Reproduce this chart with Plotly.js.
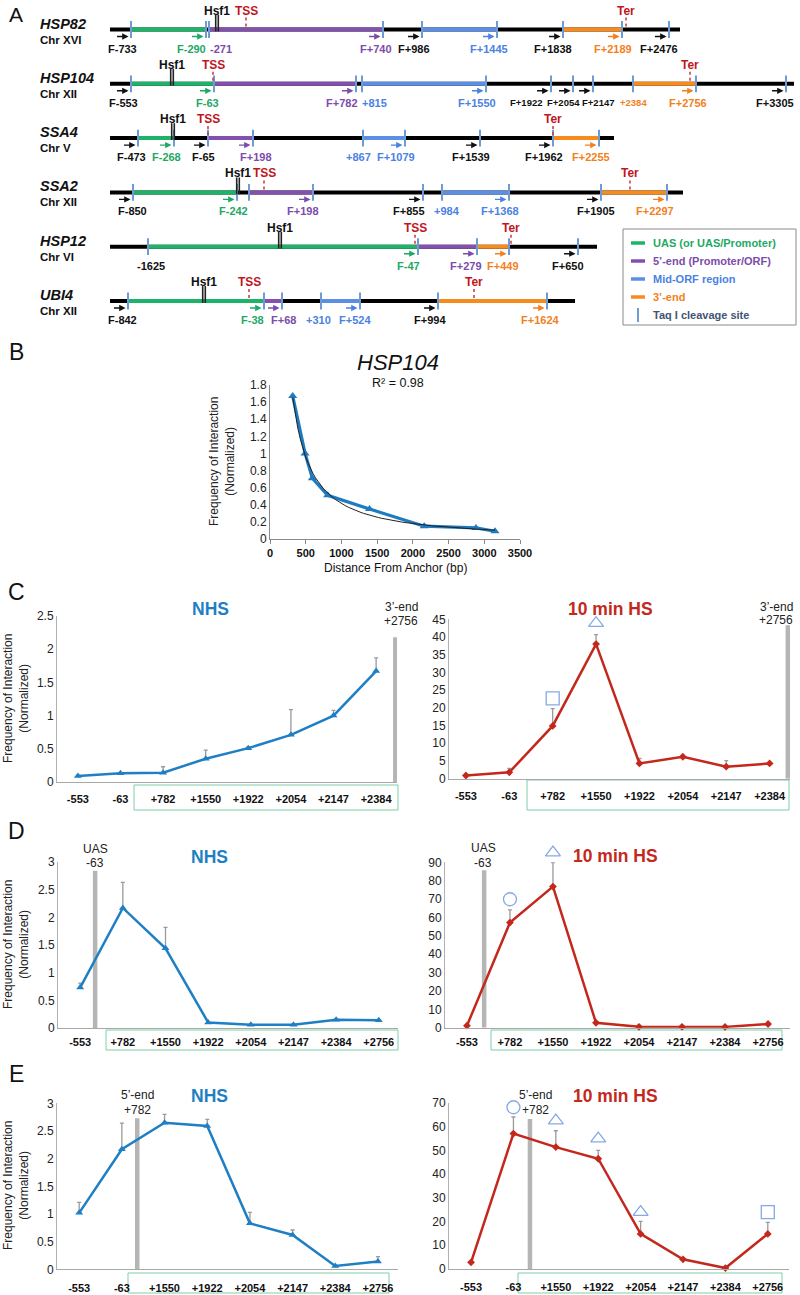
<!DOCTYPE html>
<html><head><meta charset="utf-8">
<script src="https://cdn.plot.ly/plotly-3.0.1.min.js"></script>
<style>html,body{margin:0;padding:0;background:#fff}#chart{width:800px;height:1295px}</style>
</head><body><div id="chart"></div>
<script>
// ================= Panel A: gene schematics (schematic units) =================
const genes = ['HSP82','HSP104','SSA4','SSA2','HSP12','UBI4'];
const chroms = ['Chr XVI','Chr XII','Chr V','Chr XII','Chr VI','Chr XII'];
const lineStart = [110,110,110,110,110,110];
const lineEnd = [680,794,614,683,597,575];
const uasSeg = [[131,206],[131,214],[138,174],[133,237],[148,418],[128,264]];
const fiveSeg = [[209,383],[214,356],[208,253],[249,313],[418,477],[264,282]];
const midSeg = [[422,497],[362,486],[363,405],[442,509],null,[321,360]];
const threeSeg = [[563,622],[633,696],[553,599],[601,667],[477,509],[438,547]];
const taqSites = [
  [131,206,209,383,422,497,563,622,669],
  [131,214,356,362,486,551,573,593,633,696,786],
  [138,174,208,253,363,405,480,553,599],
  [133,237,249,313,423,442,509,601,667],
  [148,418,477,509,578],
  [128,264,282,321,360,438,547]
];
const hsf1Pos = [217,172,173,238,280,204];
const tssPos = [246,213,208,264,415,249];
const terPos = [626,690,553,630,511,474];
// probe labels: [text, label position, arrow target site (null = no arrow), colour key]
const probes = [
  [['F-733',122,131,'k'],['F-290',191,206,'g'],['-271',221,null,'p'],['F+740',376,383,'p'],['F+986',414,422,'k'],['F+1445',489,497,'b'],['F+1838',553,563,'k'],['F+2189',613,622,'o'],['F+2476',659,669,'k']],
  [['F-553',123,131,'k'],['F-63',207,214,'g'],['F+782',342,356,'p'],['+815',374,null,'b'],['F+1550',477,486,'b'],['F+1922',526,551,'k'],['F+2054',563,573,'k'],['F+2147',598,593,'k'],['+2384',633,null,'o'],['F+2756',688,696,'o'],['F+3305',775,786,'k']],
  [['F-473',131,138,'k'],['F-268',166,174,'g'],['F-65',203,208,'k'],['F+198',256,253,'p'],['+867',358,null,'b'],['F+1079',396,405,'b'],['F+1539',471,480,'k'],['F+1962',544,553,'k'],['F+2255',591,599,'o']],
  [['F-850',132,133,'k'],['F-242',233,237,'g'],['F+198',303,313,'p'],['F+855',409,423,'k'],['+984',447,null,'b'],['F+1368',500,509,'b'],['F+1905',596,601,'k'],['F+2297',655,667,'o']],
  [['-1625',151,null,'k'],['F-47',408,418,'g'],['F+279',466,477,'p'],['F+449',503,509,'o'],['F+650',568,578,'k']],
  [['F-842',122,128,'k'],['F-38',252,264,'g'],['F+68',283,282,'p'],['+310',318,null,'b'],['F+524',355,360,'b'],['F+994',430,438,'k'],['F+1624',540,547,'o']]
];
const smallProbes = ['F+1922','F+2054','F+2147','+2384'];
const legendItems = ['UAS (or UAS/Promoter)','5\u2019-end (Promoter/ORF)','Mid-ORF region','3\u2019-end','Taq I cleavage site'];

// ================= Panel B =================
const bDist = [318,491,593,808,1393,2159,2883,3150];
const bFreq = [1.67,1.0,0.71,0.51,0.35,0.15,0.13,0.09];

// ================= Panel C (anchor +2756) =================
const cLabels = ['-553','-63','+782','+1550','+1922','+2054','+2147','+2384'];
const cNHS    = [0.09,0.13,0.14,0.35,0.51,0.71,1.0,1.67];
const cNHSerr = [0.01,0.01,0.09,0.13,0.02,0.38,0.08,0.2];
const cHS     = [0.9,1.8,14.9,38.0,4.3,6.2,3.4,4.3];
const cHSerr  = [0.2,1.1,4.9,2.7,1.4,0.3,1.7,0.3];
const cSymX = [2,3], cSymY = [22.7,43.9], cSym = ['square-open','triangle-up-open'];

// ================= Panel D (anchor -63) =================
const dLabels = ['-553','+782','+1550','+1922','+2054','+2147','+2384','+2756'];
const dNHS    = [0.73,2.17,1.44,0.10,0.06,0.06,0.15,0.14];
const dNHSerr = [0.08,0.46,0.38,0.01,0.01,0.01,0.01,0.01];
const dHS     = [1.1,57.2,76.8,2.7,0.5,0.5,0.4,2.0];
const dHSerr  = [0.3,6.9,13,0.3,0.2,0.2,0.2,0.3];
const dSymX = [1,2], dSymY = [69.9,95.3], dSym = ['circle-open','triangle-up-open'];

// ================= Panel E (anchor +782) =================
const eLabels = ['-553','-63','+1550','+1922','+2054','+2147','+2384','+2756'];
const eNHS    = [1.02,2.17,2.65,2.59,0.83,0.62,0.06,0.14];
const eNHSerr = [0.19,0.47,0.15,0.12,0.2,0.09,0.01,0.09];
const eHS     = [2.8,57.1,51.4,46.5,14.8,4.1,0.4,14.8];
const eHSerr  = [0.3,7,6.9,3.5,5.3,0.3,0.2,4.9];
const eSymX = [1,2,3,4,7], eSymY = [68.2,62.6,55,24,24];
const eSym = ['circle-open','triangle-up-open','triangle-up-open','triangle-up-open','square-open'];

// anchor fragment markers: [position on category axis, bar top]
const cAnchorL = [7.45,2.18], cAnchorR = [7.42,43.3];
const dAnchorL = [0.35,2.84], dAnchorR = [0.40,85.7];
const eAnchorL = [1.36,2.73], eAnchorR = [1.39,63.3];

// ================= helpers =================
const FONT = 'Liberation Sans, Arial, sans-serif';
const W = 800, H = 1295;
const fx = p => p / W, fy = p => 1 - p / H;
const ROW0 = 29.5, ROWH = 54.3;
const COL = {k:'#111111', g:'#1fa865', p:'#7c4cab', b:'#4a82e2', o:'#f3801c'};
const SEG = {uas:'#1db46a', five:'#8450b0', mid:'#5b8fe6', three:'#f78b1e'};
const TAQ = '#6d9bd3', RED = '#c0161e';
const BLUE = '#1f7fc4', DRED = '#c4281c', SYM = '#86a9e6';

const traces = [];
const ann = [];
const shapes = [];

function segTrace(segs, color){
  const x = [], y = [];
  segs.forEach((s,i) => { if (!s) return; x.push(s[0], s[1], null); y.push(i, i, null); });
  return {type:'scatter', mode:'lines', x, y, xaxis:'x', yaxis:'y', line:{color, width:4}, hoverinfo:'skip', showlegend:false};
}
traces.push(segTrace(genes.map((g,i) => [lineStart[i], lineEnd[i]]), '#000'));
traces.push(segTrace(uasSeg, SEG.uas));
traces.push(segTrace(fiveSeg, SEG.five));
traces.push(segTrace(midSeg, SEG.mid));
traces.push(segTrace(threeSeg, SEG.three));
// Taq I sites
(function(){
  const x = [], y = [];
  taqSites.forEach((arr,i) => arr.forEach(v => { x.push(v); y.push(i); }));
  traces.push({type:'scatter', mode:'markers', x, y, xaxis:'x', yaxis:'y', hoverinfo:'skip', showlegend:false,
    marker:{symbol:'line-ns', size:12, line:{width:2, color:TAQ}}});
})();
// Hsf1 double bars
(function(){
  const x = [], y = [];
  hsf1Pos.forEach((v,i) => { x.push(v-1.3, v+1.3); y.push(i-6.5/ROWH, i-6.5/ROWH); });
  traces.push({type:'scatter', mode:'markers', x, y, xaxis:'x', yaxis:'y', hoverinfo:'skip', showlegend:false,
    marker:{symbol:'line-ns', size:12, line:{width:1.6, color:'#222'}}});
})();
// TSS / Ter dotted ticks
(function(){
  const x = [], y = [];
  [tssPos, terPos].forEach(arr => arr.forEach((v,i) => { x.push(v, v, null); y.push(i-12/ROWH, i-3/ROWH, null); }));
  traces.push({type:'scatter', mode:'lines', x, y, xaxis:'x', yaxis:'y', hoverinfo:'skip', showlegend:false,
    line:{color:'#d04048', width:1.6, dash:'dot'}});
})();

genes.forEach((g,i) => {
  ann.push({xref:'x', yref:'y', x:38, y:i, yshift:6, xanchor:'left', yanchor:'middle', showarrow:false,
    text:'<b><i>'+g+'</i></b>', font:{family:FONT, size:14.5, color:'#111'}});
  ann.push({xref:'x', yref:'y', x:38, y:i, yshift:-10, xanchor:'left', yanchor:'middle', showarrow:false,
    text:'<b>'+chroms[i]+'</b>', font:{family:FONT, size:11.5, color:'#111'}});
  ann.push({xref:'x', yref:'y', x:hsf1Pos[i], y:i, yshift:19, xanchor:'center', yanchor:'middle', showarrow:false,
    text:'<b>Hsf1</b>', font:{family:FONT, size:12, color:'#111'}});
  ann.push({xref:'x', yref:'y', x:tssPos[i], y:i, yshift:19, xanchor:'center', yanchor:'middle', showarrow:false,
    text:'<b>TSS</b>', font:{family:FONT, size:12, color:RED}});
  ann.push({xref:'x', yref:'y', x:terPos[i], y:i, yshift:19, xanchor:'center', yanchor:'middle', showarrow:false,
    text:'<b>Ter</b>', font:{family:FONT, size:12, color:RED}});
  probes[i].forEach(p => {
    const small = smallProbes.indexOf(p[0]) >= 0 && i === 1;
    ann.push({xref:'x', yref:'y', x:p[1], y:i, yshift:-19, xanchor:'center', yanchor:'middle', showarrow:false,
      text:'<b>'+p[0]+'</b>', font:{family:FONT, size: small ? 9.5 : 11, color:COL[p[3]]}});
    if (p[2] !== null) {
      ann.push({xref:'x', yref:'y', x:p[2]-2.5, y:i, yshift:-7, ax:-13, ay:0, showarrow:true, text:'',
        arrowhead:2, arrowsize:0.9, arrowwidth:1.4, arrowcolor:COL[p[3]], standoff:0});
    }
  });
});

// legend box (panel A)
shapes.push({type:'rect', xref:'paper', yref:'paper', x0:fx(623), x1:fx(796), y0:fy(229), y1:fy(325),
  line:{color:'#8a8a8a', width:1}, fillcolor:'rgba(0,0,0,0)'});
const legCols = [SEG.uas, SEG.five, SEG.mid, SEG.three];
const legTextCols = [COL.g, COL.p, COL.b, COL.o, '#3f5573'];
legendItems.forEach((t,k) => {
  const py = 243 + 18*k;
  if (k < 4) {
    shapes.push({type:'line', xref:'paper', yref:'paper', x0:fx(631), x1:fx(645), y0:fy(py), y1:fy(py),
      line:{color:legCols[k], width:3.5}});
  } else {
    shapes.push({type:'line', xref:'paper', yref:'paper', x0:fx(638), x1:fx(638), y0:fy(py-7), y1:fy(py+7),
      line:{color:TAQ, width:2}});
  }
  ann.push({xref:'paper', yref:'paper', x:fx(651), y:fy(py), xanchor:'left', yanchor:'middle', showarrow:false,
    text:'<b>'+t+'</b>', font:{family:FONT, size:11, color:legTextCols[k]}});
});

// ================= Panel B traces =================
traces.push({type:'scatter', mode:'lines+markers', x:bDist, y:bFreq, xaxis:'x2', yaxis:'y2', hoverinfo:'skip', showlegend:false,
  line:{color:'#1f7bbf', width:3.2}, marker:{symbol:'triangle-up', size:8, color:'#1f7bbf'}});
// power trendline fitted to the data (least squares in log-log space)
(function(){
  const lx = bDist.map(Math.log), ly = bFreq.map(Math.log), n = lx.length;
  const mx = lx.reduce((a,b)=>a+b)/n, my = ly.reduce((a,b)=>a+b)/n;
  let sxy = 0, sxx = 0;
  for (let i=0;i<n;i++){ sxy += (lx[i]-mx)*(ly[i]-my); sxx += (lx[i]-mx)*(lx[i]-mx); }
  const b = sxy/sxx, a = Math.exp(my - b*mx);
  const x = [], y = [];
  const x0 = Math.min(...bDist), x1 = Math.max(...bDist);
  for (let k=0;k<=80;k++){ const xv = x0 + (x1-x0)*k/80; x.push(xv); y.push(a*Math.pow(xv,b)); }
  traces.push({type:'scatter', mode:'lines', x, y, xaxis:'x2', yaxis:'y2', hoverinfo:'skip', showlegend:false,
    line:{color:'#222', width:1}});
})();

// ================= Panels C, D, E =================
function anchorBar(xa, ya, a){
  return {type:'scatter', mode:'lines', x:[a[0],a[0]], y:[0,a[1]], xaxis:xa, yaxis:ya, hoverinfo:'skip', showlegend:false,
    line:{color:'#b5b5b5', width:4.5}, cliponaxis:false};
}
function series(xa, ya, vals, err, color, symbol, msize){
  return {type:'scatter', mode:'lines+markers', x:vals.map((_,i)=>i), y:vals, xaxis:xa, yaxis:ya,
    line:{color, width:2.5}, marker:{symbol, size:msize, color},
    error_y:{type:'data', symmetric:false, array:err, arrayminus:err.map(()=>0), color:'#9a9a9a', thickness:1.3, width:2},
    cliponaxis:false, hoverinfo:'skip', showlegend:false};
}
function symbols(xa, ya, xs, ys, syms){
  return {type:'scatter', mode:'markers', x:xs, y:ys, xaxis:xa, yaxis:ya, cliponaxis:false, hoverinfo:'skip', showlegend:false,
    marker:{symbol:syms, size:13, color:SYM, line:{width:1.3, color:SYM}}};
}
traces.push(anchorBar('x3','y3',cAnchorL), series('x3','y3',cNHS,cNHSerr,BLUE,'triangle-up',7));
traces.push(anchorBar('x4','y4',cAnchorR), series('x4','y4',cHS,cHSerr,DRED,'diamond',6), symbols('x4','y4',cSymX,cSymY,cSym));
traces.push(anchorBar('x5','y5',dAnchorL), series('x5','y5',dNHS,dNHSerr,BLUE,'triangle-up',7));
// D right symbols lie above the plotted range: drawn on an invisible y axis with the same scale, taller domain
traces.push(anchorBar('x6','y6',dAnchorR), series('x6','y6',dHS,dHSerr,DRED,'diamond',6), symbols('x6','y9',dSymX,dSymY,dSym));
traces.push(anchorBar('x7','y7',eAnchorL), series('x7','y7',eNHS,eNHSerr,BLUE,'triangle-up',7));
traces.push(anchorBar('x8','y8',eAnchorR), series('x8','y8',eHS,eHSerr,DRED,'diamond',6), symbols('x8','y8',eSymX,eSymY,eSym));

function catX(px, range, labels, anchor, standoff){
  return {domain:[fx(px[0]), fx(px[1])], range, anchor, showgrid:false, zeroline:false, showline:true,
    linecolor:'#a8a8a8', linewidth:1, ticks:'', tickmode:'array', tickvals:labels.map((_,i)=>i),
    ticktext:labels.map(t=>'<b>'+t+'</b>'), tickfont:{family:FONT, size:11, color:'#111'},
    ticklabelstandoff:standoff, fixedrange:true};
}
function valY(py, max, dtick, anchor){
  return {domain:[fy(py[1]), fy(py[0])], range:[0,max], dtick, anchor, showgrid:false, zeroline:false,
    showline:true, linecolor:'#b0b0b0', linewidth:1, ticks:'', tickfont:{family:FONT, size:12, color:'#222'}, fixedrange:true};
}
// D right scale: 0 at 1027.7 px, 90 at 862.3 px -> extend same scale up to 830 px
const d6Bottom = 1027.7, d6Top = 862.3, d6Max = 90, d6ExtTop = 830;
const d6ExtMax = d6Max * (d6Bottom - d6ExtTop) / (d6Bottom - d6Top);

const layout = {
  width:W, height:H, margin:{l:0,r:0,t:0,b:0}, paper_bgcolor:'#fff', plot_bgcolor:'rgba(0,0,0,0)',
  showlegend:false, font:{family:FONT, color:'#111'},
  xaxis:{domain:[0,1], range:[0,W], visible:false, fixedrange:true, anchor:'y'},
  yaxis:{domain:[0,1], range:[(H-ROW0)/ROWH, -ROW0/ROWH], visible:false, fixedrange:true, anchor:'x'},
  xaxis2:{domain:[fx(270), fx(520)], range:[0,3500], dtick:500, anchor:'y2', showgrid:false, zeroline:false,
    showline:true, linecolor:'#8a8a8a', ticks:'outside', ticklen:4, tickcolor:'#8a8a8a',
    tickfont:{family:FONT, size:11, color:'#111', weight:'bold'}, fixedrange:true},
  yaxis2:{domain:[fy(539), fy(385)], range:[0,1.8], dtick:0.2, anchor:'x2', showgrid:false, zeroline:false,
    showline:true, linecolor:'#8a8a8a', ticks:'', tickfont:{family:FONT, size:12, color:'#222'}, fixedrange:true},
  xaxis3: catX([57,397], [-0.49,7.49], cLabels, 'y3', 7),
  yaxis3: valY([616,782], 2.5, 0.5, 'x3'),
  xaxis4: catX([449,790], [-0.39,7.47], cLabels, 'y4', 7),
  yaxis4: valY([619.3,778.7], 45, 5, 'x4'),
  xaxis5: catX([58,398], [-0.52,7.45], dLabels, 'y5', 4),
  yaxis5: valY([862,1028], 3, 0.5, 'x5'),
  xaxis6: catX([445,790], [-0.51,7.51], dLabels, 'y6', 4),
  yaxis6: valY([d6Top,d6Bottom], d6Max, 10, 'x6'),
  xaxis7: catX([57,398], [-0.52,7.47], eLabels, 'y7', 8),
  yaxis7: valY([1103.3,1269.3], 3, 0.5, 'x7'),
  xaxis8: catX([449,789], [-0.52,7.50], eLabels, 'y8', 8),
  yaxis8: valY([1103,1269], 70, 10, 'x8'),
  yaxis9:{domain:[fy(d6Bottom), fy(d6ExtTop)], range:[0,d6ExtMax], anchor:'x6', visible:false, fixedrange:true},
  shapes, annotations: ann
};

// green boxes around ORF fragment labels
[[134,785,398,810],[527,780,789,810],[106,1030,398,1050],[491,1030,782,1050],[128,1273,389,1293],[518,1273,782,1293]]
  .forEach(b => shapes.push({type:'rect', xref:'paper', yref:'paper', x0:fx(b[0]), x1:fx(b[2]), y0:fy(b[3]), y1:fy(b[1]),
    line:{color:'#7fcfa8', width:1}, fillcolor:'rgba(0,0,0,0)', layer:'below'}));

function txt(px, py, t, size, color, extra){
  ann.push(Object.assign({xref:'paper', yref:'paper', x:fx(px), y:fy(py), xanchor:'center', yanchor:'middle',
    showarrow:false, text:t, font:{family:FONT, size, color}}, extra||{}));
}
// panel letters
txt(16, 14, 'A', 21, '#111');
txt(16, 352, 'B', 23, '#111');
txt(16, 592, 'C', 23, '#111');
txt(16, 831, 'D', 23, '#111');
txt(16, 1074, 'E', 23, '#111');
// panel B texts
txt(398, 362, '<i>HSP104</i>', 22, '#111');
txt(398, 383, 'R\u00b2 = 0.98', 12.5, '#111');
txt(395, 568, 'Distance From Anchor (bp)', 12, '#111');
const ytitle = 'Frequency of Interaction<br>(Normalized)';
txt(222, 462, ytitle, 12, '#222', {textangle:-90});
txt(16, 699, ytitle, 12, '#222', {textangle:-90});
txt(16, 945, ytitle, 12, '#222', {textangle:-90});
txt(16, 1186, ytitle, 12, '#222', {textangle:-90});
// condition titles
txt(210, 609, '<b>NHS</b>', 17.5, BLUE);
txt(610, 609, '<b>10 min HS</b>', 17.5, DRED);
txt(209, 857, '<b>NHS</b>', 17.5, BLUE);
txt(615, 856, '<b>10 min HS</b>', 17.5, DRED);
txt(209, 1096, '<b>NHS</b>', 17.5, BLUE);
txt(615, 1096, '<b>10 min HS</b>', 17.5, DRED);
// anchor labels
txt(401, 607, '3\u2019-end', 12, '#222'); txt(401, 621, '+2756', 12, '#222');
txt(776, 607, '3\u2019-end', 12, '#222'); txt(776, 620, '+2756', 12, '#222');
txt(95, 849, 'UAS', 12, '#222'); txt(95, 863, '-63', 12, '#222');
txt(483, 848, 'UAS', 12, '#222'); txt(483, 863, '-63', 12, '#222');
txt(137, 1095, '5\u2019-end', 12, '#222'); txt(137, 1110, '+782', 12, '#222');
txt(535, 1095, '5\u2019-end', 12, '#222'); txt(535, 1110, '+782', 12, '#222');

Plotly.newPlot('chart', traces, layout, {staticPlot:true, displayModeBar:false});
</script></body></html>
